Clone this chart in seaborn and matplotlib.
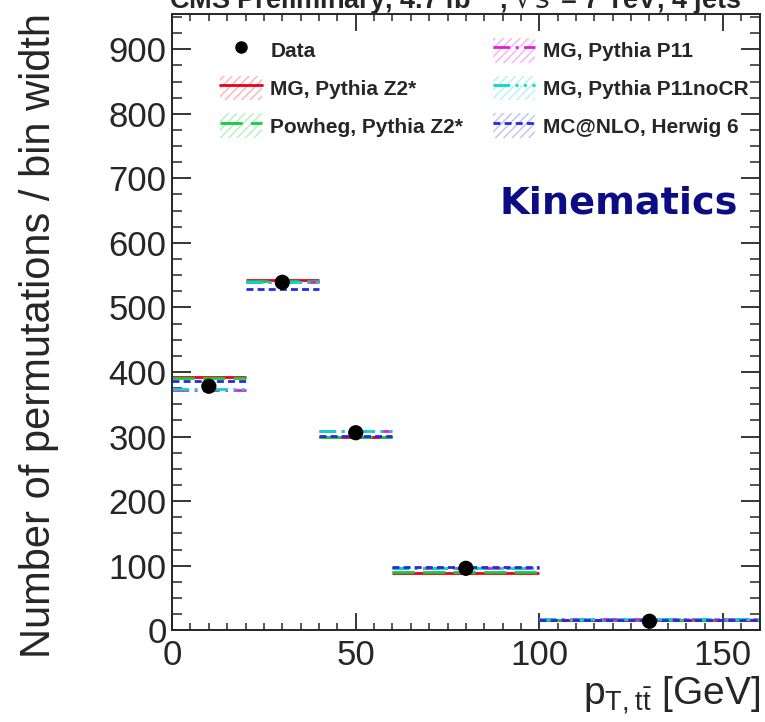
import numpy as np
import pandas as pd
import seaborn as sns
import matplotlib.pyplot as plt
from matplotlib.lines import Line2D
from matplotlib.patches import Patch
from matplotlib.ticker import MultipleLocator

# Bins of pT(ttbar) and counts / bin width
edges = [0, 20, 40, 60, 100, 160]
data = [378, 539, 306, 96, 14]
mg_z2 = [393, 542, 300, 89, 16]
powheg_z2 = [391, 541, 300, 91, 16]
mg_p11 = [372, 540, 308, 97, 17]
mg_p11nocr = [374, 539, 309, 97, 17]
mcnlo_herwig = [386, 528, 301, 98, 16]

labels = ['MG, Pythia Z2*', 'Powheg, Pythia Z2*', 'MG, Pythia P11',
          'MG, Pythia P11noCR', 'MC@NLO, Herwig 6']
series = [mg_z2, powheg_z2, mg_p11, mg_p11nocr, mcnlo_herwig]
colors = ['#e8001c', '#14cc3c', '#e01ed8', '#10d2d2', '#2828e0']
light = ['#ffb0b0', '#b0f0c0', '#f8b0f0', '#b0f4f4', '#c0c0f8']
styles = ['-', (0, (8, 3)), (0, (6, 2, 1, 2)), (0, (6, 2, 1, 2, 1, 2)), (0, (2.5, 1.5))]

sns.set_style('ticks')
plt.rcParams['font.family'] = ['Liberation Sans', 'DejaVu Sans']

fig = plt.figure(figsize=(7.65, 7.22), dpi=100)
ax = fig.add_axes([0.225, 0.127, 0.768, 0.854])

lo = np.array(edges[:-1])
hi = np.array(edges[1:])
centers = (lo + hi) / 2

for vals, c, ls in zip(series, colors, styles):
    ax.hlines(vals, lo, hi, colors=c, linestyles=ls, linewidth=2)

df = pd.DataFrame({'x': centers, 'y': data})
sns.scatterplot(data=df, x='x', y='y', color='black', s=120, edgecolor='none',
                zorder=5, ax=ax, legend=False)

ax.set_xlim(0, 160)
ax.set_ylim(0, 955)
ax.xaxis.set_major_locator(MultipleLocator(50))
ax.xaxis.set_minor_locator(MultipleLocator(5))
ax.yaxis.set_major_locator(MultipleLocator(100))
ax.yaxis.set_minor_locator(MultipleLocator(25))
ax.tick_params(which='both', direction='in', top=True, right=True, labelsize=25)
ax.tick_params(axis='y', which='major', length=14, width=1.3, pad=4)
ax.tick_params(axis='y', which='minor', length=7, width=1.1)
ax.tick_params(axis='x', which='major', length=12, width=1.3, pad=6)
ax.tick_params(axis='x', which='minor', length=5, width=1.1)
for s in ax.spines.values():
    s.set_linewidth(1.4)

ax.set_ylabel('Number of permutations / bin width', fontsize=30)
ax.yaxis.set_label_coords(-0.192, 0.478, transform=ax.transAxes)
ax.set_xlabel(r'$\mathregular{p_{T,t\bar{t}}}$ [GeV]', fontsize=28, loc='right', labelpad=2)

handles = [Line2D([], [], marker='o', color='black', linestyle='none', markersize=8)]
for c, lc, ls in zip(colors, light, styles):
    band = Patch(facecolor='none', edgecolor=lc, hatch='////', linewidth=0)
    line = Line2D([], [], color=c, linestyle=ls, linewidth=2)
    handles.append((band, line))
leg = ax.legend(handles, ['Data'] + labels, ncol=2, loc='upper left',
                bbox_to_anchor=(0.082, 0.961), borderaxespad=0, borderpad=0,
                frameon=False, prop={'weight': 'bold', 'size': 15},
                handlelength=2.0, handleheight=1.45, labelspacing=0.63,
                columnspacing=1.45, handletextpad=0.4)

ax.text(0.964, 0.693, 'Kinematics', transform=ax.transAxes, ha='right', va='center',
        fontsize=27.5, fontweight='bold', color='#0c0c84', family=['DejaVu Sans'])

fig.text(0.595, 1.0, r'CMS Preliminary, 4.7 fb$^{-1}$, $\sqrt{s}$ = 7 TeV, 4 jets',
         ha='center', va='center', fontsize=19.5, fontweight='bold')

fig.savefig('out.png', dpi=100)
